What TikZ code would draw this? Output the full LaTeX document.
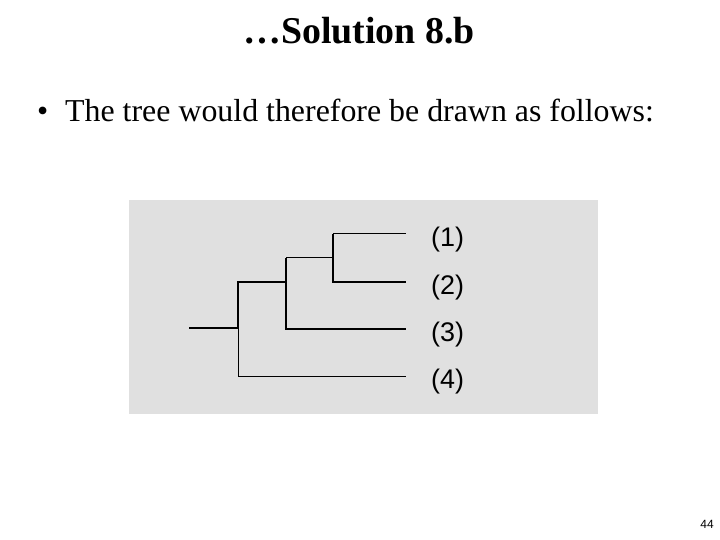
\documentclass[tikz,border=0pt]{standalone}
\usepackage{fontspec}
\setmainfont{Liberation Serif}
\newfontfamily\arialfont{Liberation Sans}
\usetikzlibrary{positioning}

\tikzset{
  branche/.style={black, line width=2bp},
  fine/.style={black, line width=1bp},
  feuille/.style={font=\arialfont\fontsize{27}{27}\selectfont, inner sep=0pt, anchor=west},
}

\begin{document}
\begin{tikzpicture}[x=1bp,y=-1bp]
\useasboundingbox (0,0) rectangle (720,540);

% titre
\node[anchor=base, inner sep=0pt] (titre) at(359,44) {\fontsize{38}{38}\selectfont\bfseries \dots Solution 8.b};
\node[anchor=base west, inner sep=0pt] (puce) at(37,122) {\fontsize{32}{32}\selectfont\textbullet};
\node[anchor=base west, inner sep=0pt] (texte) at(65,122) {\fontsize{32}{32}\selectfont The tree would therefore be drawn as follows:};

% cadre gris
\fill[fill={rgb,255:red,224;green,224;blue,224}] (129,200) rectangle (598,414);

% noeuds internes
\coordinate (r) at(189,328);
\coordinate (n1) at(238,328);
\coordinate (n2) at(286,282);
\coordinate (n3) at(333,258);

% feuilles
\coordinate (l1) at(406,234);
\coordinate (l2) at(406,282);
\coordinate (l3) at(406,329);
\coordinate (l4) at(406,376);

% branches
\draw[branche] (r)--(n1);
\draw[branche] (n1) |- (n2);
\draw[fine] (n1) |- (l4);
\draw[branche] (n2) |- (l3);
\draw[branche] (n2) -- (n2 |- n3);
\draw[fine] (n2 |- n3) -- (n3);
\draw[branche] (n3) |- (l2);
\draw[branche] (n3) -- (n3 |- l1);
\draw[fine] (n3 |- l1) -- (l1);

% etiquettes
\node[feuille, right=25bp of l1, yshift=-6bp] (e1) {(1)};
\node[feuille, right=25bp of l2, yshift=-6bp] (e2) {(2)};
\node[feuille, right=25bp of l3, yshift=-6bp] (e3) {(3)};
\node[feuille, right=25bp of l4, yshift=-6bp] (e4) {(4)};

% numero de page
\node[font=\arialfont\fontsize{12}{12}\selectfont, inner sep=0pt] (page) at(707,524) {44};
\end{tikzpicture}
\end{document}
